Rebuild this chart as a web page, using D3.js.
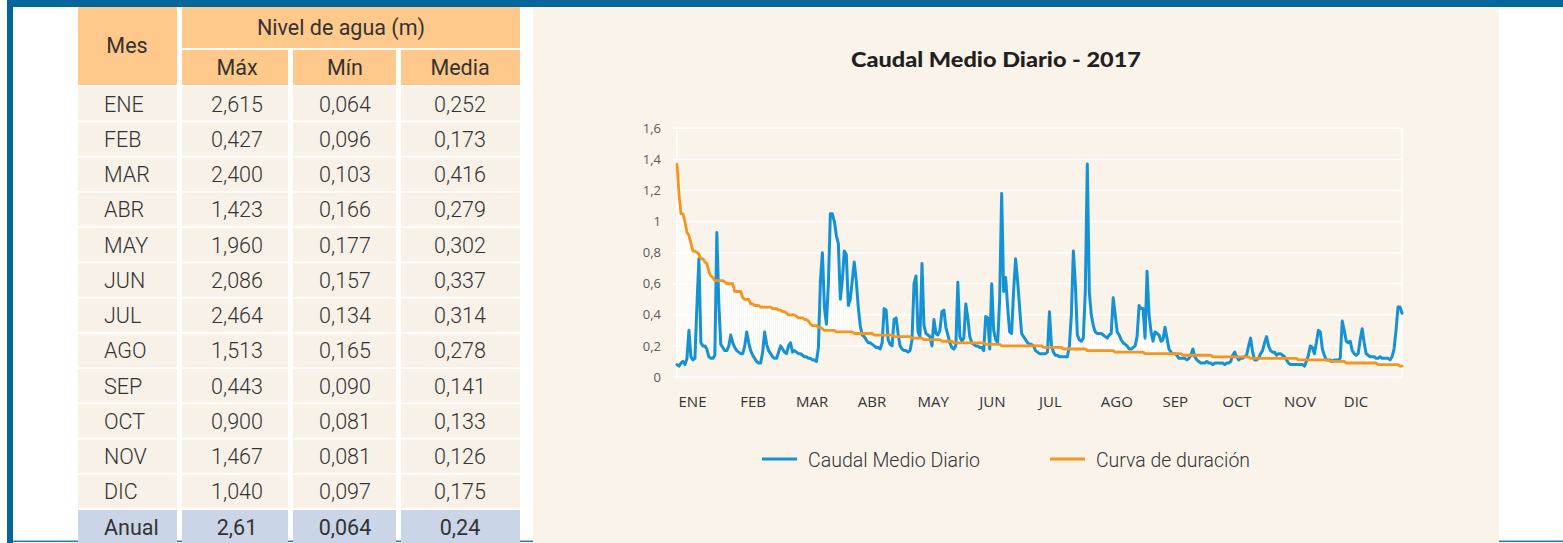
<!DOCTYPE html>
<html>
<head>
<meta charset="utf-8">
<script src="https://cdn.jsdelivr.net/npm/d3@7"></script>
<style>
  body { margin: 0; background: #fff; }
  svg { display: block; font-family: Roboto, "Noto Sans", sans-serif; }
</style>
</head>
<body>
<svg></svg>
<script>
var WIDTH = 1563;
var HEIGHT = 543;

// tabla: nivel de agua (m)
var meses = ['ENE', 'FEB', 'MAR', 'ABR', 'MAY', 'JUN', 'JUL', 'AGO', 'SEP', 'OCT', 'NOV', 'DIC'];
var nivelMax = [2.615, 0.427, 2.400, 1.423, 1.960, 2.086, 2.464, 1.513, 0.443, 0.900, 1.467, 1.040];
var nivelMin = [0.064, 0.096, 0.103, 0.166, 0.177, 0.157, 0.134, 0.165, 0.090, 0.081, 0.081, 0.097];
var nivelMedia = [0.252, 0.173, 0.416, 0.279, 0.302, 0.337, 0.314, 0.278, 0.141, 0.133, 0.126, 0.175];
var anual = ['2,61', '0,064', '0,24'];

// caudal medio diario 2017
var caudalEne = [0.08,0.07,0.09,0.10,0.08,0.12,0.30,0.13,0.11,0.12,0.46,0.76,0.22,0.20,0.20,0.18,0.13,0.12,0.12,0.14,0.93,0.47,0.21,0.19,0.17,0.17,0.20,0.27,0.22,0.19,0.17];
var caudalFeb = [0.16,0.15,0.15,0.20,0.29,0.22,0.17,0.14,0.12,0.10,0.09,0.09,0.16,0.29,0.21,0.17,0.15,0.13,0.12,0.12,0.16,0.20,0.18,0.16,0.15,0.20,0.22,0.16];
var caudalMar = [0.17,0.16,0.15,0.15,0.14,0.13,0.13,0.12,0.12,0.11,0.11,0.10,0.19,0.62,0.80,0.45,0.34,0.60,1.05,1.05,1.00,0.91,0.86,0.50,0.62,0.81,0.79,0.46,0.50,0.62,0.74];
var caudalAbr = [0.62,0.45,0.33,0.27,0.26,0.24,0.22,0.22,0.21,0.20,0.19,0.19,0.18,0.22,0.44,0.43,0.24,0.21,0.20,0.37,0.38,0.28,0.20,0.18,0.17,0.17,0.16,0.17,0.24,0.60];
var caudalMay = [0.65,0.29,0.26,0.73,0.33,0.28,0.27,0.26,0.20,0.37,0.28,0.27,0.30,0.42,0.43,0.32,0.27,0.22,0.19,0.18,0.20,0.61,0.26,0.23,0.25,0.47,0.38,0.26,0.22,0.21,0.20];
var caudalJun = [0.20,0.19,0.19,0.17,0.39,0.38,0.18,0.60,0.30,0.24,0.22,0.50,1.18,0.55,0.64,0.45,0.29,0.28,0.55,0.76,0.62,0.45,0.28,0.26,0.24,0.22,0.21,0.21,0.20,0.17];
var caudalJul = [0.16,0.15,0.15,0.15,0.15,0.16,0.42,0.20,0.16,0.14,0.14,0.13,0.13,0.13,0.13,0.13,0.20,0.40,0.81,0.60,0.27,0.24,0.23,0.25,0.55,1.37,0.55,0.40,0.33,0.29,0.28];
var caudalAgo = [0.28,0.28,0.27,0.26,0.25,0.27,0.28,0.51,0.40,0.29,0.27,0.24,0.22,0.21,0.20,0.18,0.18,0.19,0.20,0.26,0.46,0.44,0.44,0.25,0.68,0.40,0.29,0.23,0.29,0.28,0.27];
var caudalSep = [0.23,0.24,0.32,0.25,0.18,0.16,0.15,0.15,0.14,0.12,0.12,0.12,0.12,0.11,0.12,0.14,0.18,0.13,0.11,0.10,0.09,0.09,0.09,0.10,0.09,0.09,0.08,0.09,0.09,0.09];
var caudalOct = [0.09,0.09,0.08,0.09,0.09,0.10,0.14,0.16,0.13,0.11,0.12,0.12,0.13,0.14,0.20,0.25,0.16,0.11,0.11,0.12,0.15,0.17,0.22,0.26,0.20,0.17,0.16,0.16,0.14,0.15,0.15];
var caudalNov = [0.14,0.13,0.11,0.09,0.08,0.08,0.08,0.08,0.08,0.08,0.08,0.07,0.10,0.14,0.20,0.19,0.15,0.22,0.30,0.29,0.18,0.14,0.11,0.11,0.11,0.10,0.11,0.11,0.11,0.12];
var caudalDic = [0.36,0.30,0.23,0.22,0.23,0.17,0.15,0.14,0.15,0.24,0.31,0.22,0.15,0.14,0.13,0.13,0.13,0.12,0.12,0.13,0.12,0.12,0.12,0.12,0.11,0.13,0.18,0.30,0.45,0.45,0.41];

var yTicks = [0, 0.2, 0.4, 0.6, 0.8, 1, 1.2, 1.4, 1.6];
var yTickLabels = ['0', '0,2', '0,4', '0,6', '0,8', '1', '1,2', '1,4', '1,6'];

var caudal = [].concat(caudalEne, caudalFeb, caudalMar, caudalAbr, caudalMay, caudalJun,
  caudalJul, caudalAgo, caudalSep, caudalOct, caudalNov, caudalDic);
// curva de duracion = caudales ordenados de mayor a menor
var duracion = caudal.slice().sort(function(a, b){ return b - a; });

var inicioMes = [];
var acum = 0;
[caudalEne, caudalFeb, caudalMar, caudalAbr, caudalMay, caudalJun, caudalJul,
 caudalAgo, caudalSep, caudalOct, caudalNov, caudalDic].forEach(function(m){
  inicioMes.push(acum);
  acum += m.length;
});

var svg = d3.select('svg')
  .attr('width', WIDTH)
  .attr('height', HEIGHT);

// marco azul
svg.append('rect').attr('x', 7).attr('y', 540.5).attr('width', WIDTH - 7).attr('height', 1.6).attr('fill', '#2f7db3');
svg.append('rect').attr('x', 7).attr('y', 0).attr('width', WIDTH - 7).attr('height', 7).attr('fill', '#03679b');
svg.append('rect').attr('x', 7).attr('y', 0).attr('width', 6).attr('height', HEIGHT).attr('fill', '#03679b');

// ---------- tabla ----------
var colX = [78, 182, 293, 401];
var colW = [99, 106, 103, 119];
var colC = [0, 237, 345, 460];
var NARANJA = '#fec98a';
var FS = 21.5;
var table = svg.append('g');

table.append('rect').attr('x', colX[0]).attr('y', 7).attr('width', colW[0]).attr('height', 78).attr('fill', NARANJA);
table.append('rect').attr('x', colX[1]).attr('y', 7).attr('width', 520 - colX[1]).attr('height', 41).attr('fill', NARANJA);
[1, 2, 3].forEach(function(c){
  table.append('rect').attr('x', colX[c]).attr('y', 50).attr('width', colW[c]).attr('height', 35).attr('fill', NARANJA);
});

var headTxt = function(x, y, t){
  table.append('text').attr('x', x).attr('y', y).attr('text-anchor', 'middle')
    .attr('font-size', FS).attr('fill', '#333').text(t);
};
headTxt(127, 53, 'Mes');
headTxt(341, 35, 'Nivel de agua (m)');
headTxt(237, 75, 'Máx');
headTxt(345, 75, 'Mín');
headTxt(460, 75, 'Media');

var fmt = function(v){ return v.toFixed(3).replace('.', ','); };
var ROW0 = 87, PITCH = 35.25;
var filas = meses.map(function(m, i){
  return [m, fmt(nivelMax[i]), fmt(nivelMin[i]), fmt(nivelMedia[i])];
});
filas.push(['Anual'].concat(anual));

filas.forEach(function(f, i){
  var y = ROW0 + i * PITCH;
  var last = i === filas.length - 1;
  f.forEach(function(t, c){
    table.append('rect').attr('x', colX[c]).attr('y', y)
      .attr('width', colW[c]).attr('height', last ? HEIGHT - y : 33.6)
      .attr('fill', last ? '#cad6e7' : '#f8f1e7');
    table.append('text')
      .attr('x', c === 0 ? 104 : colC[c])
      .attr('y', y + 24.5)
      .attr('text-anchor', c === 0 ? 'start' : 'middle')
      .attr('font-size', FS)
      .attr('font-weight', last ? 400 : 300)
      .attr('fill', '#333')
      .text(t);
  });
});

// ---------- grafico ----------
svg.append('rect').attr('x', 533).attr('y', 7).attr('width', 966).attr('height', HEIGHT - 7).attr('fill', '#f9f3ea');

var xScale = d3.scaleLinear().domain([0, caudal.length - 1]).range([677, 1402]);
var yScale = d3.scaleLinear().domain([0, 1.6]).range([377, 128.3]);

svg.append('text')
  .attr('x', 996).attr('y', 67)
  .attr('text-anchor', 'middle')
  .attr('font-family', 'Lato, sans-serif')
  .attr('font-weight', 900)
  .attr('font-size', 21)
  .attr('fill', '#231f20')
  .attr('textLength', 290).attr('lengthAdjust', 'spacingAndGlyphs')
  .text('Caudal Medio Diario - 2017');

var grid = svg.append('g');
grid.selectAll('line.h').data(yTicks).enter().append('line')
  .attr('x1', 673).attr('x2', xScale.range()[1])
  .attr('y1', function(d){ return yScale(d); })
  .attr('y2', function(d){ return yScale(d); })
  .attr('stroke', '#fff').attr('stroke-width', 1.5);
grid.selectAll('line.v').data(xScale.range()).enter().append('line')
  .attr('x1', function(d){ return d; }).attr('x2', function(d){ return d; })
  .attr('y1', yScale(1.6)).attr('y2', yScale(0))
  .attr('stroke', '#fff').attr('stroke-width', 1.5);

var leftAxis = d3.axisLeft(yScale).tickValues(yTicks)
  .tickFormat(function(d, i){ return yTickLabels[i]; })
  .tickSize(0).tickPadding(3);
var yAxisG = svg.append('g').attr('transform', 'translate(664,0)').call(leftAxis);
yAxisG.select('.domain').remove();
yAxisG.selectAll('text').attr('font-size', 13).attr('fill', '#595959').attr('font-family', '"Open Sans", sans-serif');

var botAxis = d3.axisBottom(xScale).tickValues(inicioMes)
  .tickFormat(function(d, i){ return meses[i]; })
  .tickSize(0).tickPadding(3);
var xAxisG = svg.append('g').attr('transform', 'translate(0,393)').call(botAxis);
xAxisG.select('.domain').remove();
xAxisG.selectAll('text').attr('text-anchor', 'start').attr('dx', 1)
  .attr('font-size', 15).attr('fill', '#333').attr('font-family', '"Open Sans", sans-serif');

// lineas alto-bajo entre las dos series
svg.append('g').selectAll('line').data(caudal).enter().append('line')
  .attr('x1', function(d, i){ return xScale(i); })
  .attr('x2', function(d, i){ return xScale(i); })
  .attr('y1', function(d){ return yScale(d); })
  .attr('y2', function(d, i){ return yScale(duracion[i]); })
  .attr('stroke', '#fff').attr('stroke-width', 1.3);

var line = d3.line()
  .x(function(d, i){ return xScale(i); })
  .y(function(d){ return yScale(d); });

svg.append('path').datum(caudal).attr('d', line)
  .attr('fill', 'none').attr('stroke', '#1592d4').attr('stroke-width', 3)
  .attr('stroke-linejoin', 'round').attr('stroke-linecap', 'round');

svg.append('path').datum(duracion).attr('d', line)
  .attr('fill', 'none').attr('stroke', '#f7941d').attr('stroke-width', 2.8)
  .attr('stroke-linejoin', 'round').attr('stroke-linecap', 'round');

// leyenda
var leyenda = [
  { label: 'Caudal Medio Diario', color: '#1592d4', x: 762, w: 172 },
  { label: 'Curva de duración', color: '#f7941d', x: 1050, w: 154 }
];
leyenda.forEach(function(l){
  svg.append('line').attr('x1', l.x).attr('x2', l.x + 35).attr('y1', 459).attr('y2', 459)
    .attr('stroke', l.color).attr('stroke-width', 3);
  svg.append('text').attr('x', l.x + 46).attr('y', 466.5)
    .attr('font-size', 21).attr('font-weight', 300).attr('fill', '#333')
    .attr('textLength', l.w).attr('lengthAdjust', 'spacingAndGlyphs')
    .text(l.label);
});
</script>
</body>
</html>
